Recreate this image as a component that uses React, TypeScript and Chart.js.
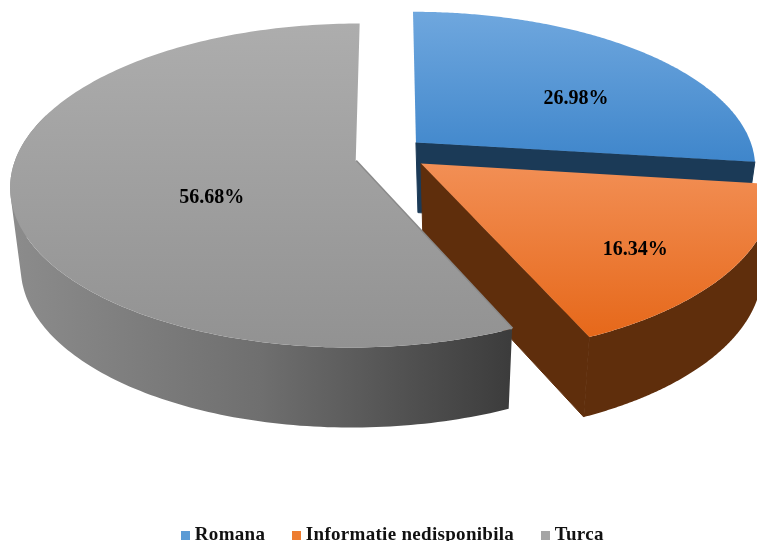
import React, { useEffect, useRef } from "react";
import { Chart, registerables } from "chart.js";

Chart.register(...registerables);

const categories = ["Romana", "Informatie nedisponibila", "Turca"];
const shares = [26.98, 16.34, 56.68];
const legendColors = ["#5b9bd5", "#ed7d31", "#a5a5a5"];
const topColors = [
  ["#6fa7de", "#3f86cb"],
  ["#f28f55", "#e6681a"],
  ["#adadad", "#929292"],
];
const wallColors = ["#1b3a57", "#5f2e0c", "#6e6e6e"];

const SERIF = '"Liberation Serif", "Times New Roman", serif';
const CX = 390, CY = 157, KX = 343, KY = 159, P = 0.151, EXPLODE = 0.09, DEPTH = 80, SHRINK = 0.972;

const proj = (dx: number, dy: number) => {
  const w = 1 - P * dy;
  return { x: CX + (KX * dx) / w, y: CY + (KY * dy) / w };
};
const low = (pt: { x: number; y: number }, d = DEPTH) => ({ x: CX + (pt.x - CX) * SHRINK, y: pt.y + d });

const sliceNudge = [
  { tx: 3, ty: -5, sx: 0.985, sy: 0.963 },
  { tx: 6, ty: -2, sx: 1.004, sy: 1.012 },
  { tx: -4, ty: 1, sx: 0.991, sy: 0.99 },
];
const labelOffset = [
  { r: 0.56, dx: 29, dy: 6 },
  { r: 0.56, dx: 55, dy: 27 },
  { r: 0.43, dx: -1, dy: 23 },
];

const swatch = (color: string) => {
  const c = document.createElement("canvas");
  c.width = 9;
  c.height = 9;
  const g = c.getContext("2d")!;
  g.fillStyle = color;
  g.fillRect(0, 0, 9, 9);
  return c;
};

const pie3d = {
  id: "pie3d",
  beforeLayout(chart: any) {
    chart.ctx.letterSpacing = "0.3px";
  },
  beforeDraw(chart: any) {
    chart.ctx.letterSpacing = "0.3px";
  },
  beforeDatasetsDraw(chart: any) {
    const ctx = chart.ctx as CanvasRenderingContext2D;
    const arcs = chart.getDatasetMeta(0).data as any[];
    ctx.save();
    ctx.letterSpacing = "0px";
    for (const i of [0, 1, 2]) {
      const { startAngle: a0, endAngle: a1 } = arcs[i];
      const mid = (a0 + a1) / 2;
      const ox = EXPLODE * Math.cos(mid), oy = EXPLODE * Math.sin(mid);
      const n = sliceNudge[i];
      const base = proj(ox, oy);
      const place = (p: { x: number; y: number }) => ({
        x: base.x + (p.x - base.x) * n.sx + n.tx,
        y: base.y + (p.y - base.y) * n.sy + n.ty,
      });
      const steps = 200;
      const angles: number[] = [];
      const rim: { x: number; y: number }[] = [];
      for (let k = 0; k <= steps; k++) {
        const a = a0 + ((a1 - a0) * k) / steps;
        angles.push(a);
        rim.push(place(proj(ox + Math.cos(a), oy + Math.sin(a))));
      }
      const apex = place(base);
      const first = rim[0], last = rim[steps];

      // radial cut faces
      if (i === 0 || i === 1) {
        const d = i === 0 ? 70 : DEPTH;
        const e = low(last, d);
        ctx.fillStyle = wallColors[i];
        ctx.strokeStyle = wallColors[i];
        ctx.lineWidth = 1;
        ctx.beginPath();
        ctx.moveTo(apex.x, apex.y);
        ctx.lineTo(last.x, last.y);
        ctx.lineTo(e.x, e.y);
        ctx.lineTo(apex.x + 2, apex.y + d);
        ctx.closePath();
        ctx.fill();
        ctx.stroke();
      }

      // outer wall: union of narrow quads, all wound the same way
      if (i === 2) {
        const g = ctx.createLinearGradient(10, 0, 510, 0);
        g.addColorStop(0, "#8c8c8c");
        g.addColorStop(0.5, "#6f6f6f");
        g.addColorStop(1, "#3c3c3c");
        ctx.fillStyle = g;
      } else {
        ctx.fillStyle = wallColors[i];
      }
      if (i !== 0) {
        ctx.beginPath();
        for (let k = 0; k < steps; k++) {
          if (Math.sin(angles[k]) < -0.3) continue;
          let quad = [rim[k], rim[k + 1], low(rim[k + 1]), low(rim[k])];
          let area = 0;
          quad.forEach((p, m) => {
            const q = quad[(m + 1) % 4];
            area += p.x * q.y - q.x * p.y;
          });
          if (area < 0) quad = quad.reverse();
          quad.forEach((p, m) => (m ? ctx.lineTo(p.x, p.y) : ctx.moveTo(p.x, p.y)));
          ctx.closePath();
        }
        ctx.fill("nonzero");
      }

      if (i === 2) {
        ctx.strokeStyle = "#8a8a8a";
        ctx.lineWidth = 3;
        ctx.beginPath();
        ctx.moveTo(apex.x, apex.y);
        ctx.lineTo(first.x, first.y);
        ctx.stroke();
      }

      // top face
      const ys = rim.map((p) => p.y).concat(apex.y);
      const tg = ctx.createLinearGradient(0, Math.min(...ys), 0, Math.max(...ys));
      tg.addColorStop(0, topColors[i][0]);
      tg.addColorStop(1, topColors[i][1]);
      ctx.fillStyle = tg;
      ctx.beginPath();
      ctx.moveTo(apex.x, apex.y);
      rim.forEach((p) => ctx.lineTo(p.x, p.y));
      ctx.closePath();
      ctx.fill();
    }
    // value labels
    ctx.fillStyle = "#000";
    ctx.font = `bold 20px ${SERIF}`;
    ctx.textAlign = "center";
    ctx.textBaseline = "middle";
    arcs.forEach((arc, i) => {
      const mid = (arc.startAngle + arc.endAngle) / 2;
      const o = labelOffset[i];
      const d = EXPLODE + o.r;
      const p = proj(d * Math.cos(mid), d * Math.sin(mid));
      ctx.fillText(`${shares[i].toFixed(2)}%`, p.x + o.dx, p.y + o.dy);
    });
    ctx.restore();
    return false;
  },
};

export default function App() {
  const ref = useRef<HTMLCanvasElement>(null);
  useEffect(() => {
    document.body.style.margin = "0";
    document.body.style.background = "#fff";
    const chart = new Chart(ref.current!, {
      type: "pie",
      data: {
        labels: categories,
        datasets: [{ data: shares, backgroundColor: legendColors, borderWidth: 0 }],
      },
      plugins: [pie3d],
      options: {
        animation: false,
        responsive: false,
        layout: { padding: { bottom: -14, left: 32 } },
        plugins: {
          tooltip: { enabled: false },
          legend: {
            position: "bottom",
            labels: {
              color: "#111",
              boxWidth: 9,
              boxHeight: 9,
              usePointStyle: true,
              pointStyleWidth: 0.1,
              padding: 31,
              font: { family: SERIF, size: 19, weight: "bold" },
              generateLabels: (c: any) =>
                (Chart as any).overrides.pie.plugins.legend.labels
                  .generateLabels(c)
                  .map((it: any, i: number) => ({ ...it, pointStyle: swatch(legendColors[i]) })),
            },
          },
        },
      },
    } as any);
    return () => chart.destroy();
  }, []);
  return <canvas ref={ref} width={757} height={541} style={{ display: "block" }} />;
}
